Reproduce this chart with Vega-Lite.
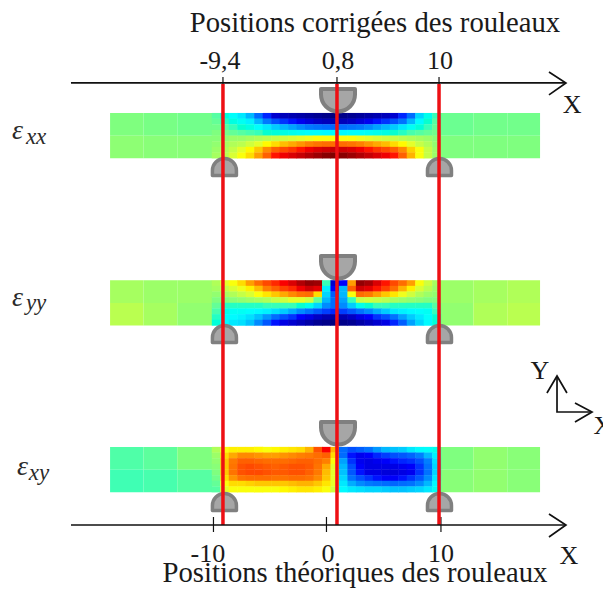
{"$schema":"https://vega.github.io/schema/vega-lite/v6.json","width":603,"height":590,"padding":0,"autosize":{"type":"none"},"background":"white","config":{"view":{"stroke":null}},
"datasets":{
"cells":[
{"x":-9.75,"y":41.95,"v":0.47},{"x":-9,"y":41.95,"v":0.42},{"x":-8.25,"y":41.95,"v":0.38},{"x":-7.5,"y":41.95,"v":0.35},{"x":-6.75,"y":41.95,"v":0.3},{"x":-6,"y":41.95,"v":0.22},{"x":-5.25,"y":41.95,"v":0.14},{"x":-4.5,"y":41.95,"v":0.08},{"x":-3.75,"y":41.95,"v":0.06},{"x":-3,"y":41.95,"v":0.05},{"x":-2.25,"y":41.95,"v":0.04},{"x":-1.5,"y":41.95,"v":0.03},{"x":-0.75,"y":41.95,"v":0.02},{"x":0,"y":41.95,"v":0.01},{"x":0.75,"y":41.95,"v":0},{"x":1.5,"y":41.95,"v":0.01},{"x":2.25,"y":41.95,"v":0.02},{"x":3,"y":41.95,"v":0.03},{"x":3.75,"y":41.95,"v":0.04},{"x":4.5,"y":41.95,"v":0.05},{"x":5.25,"y":41.95,"v":0.06},{"x":6,"y":41.95,"v":0.08},{"x":6.75,"y":41.95,"v":0.14},{"x":7.5,"y":41.95,"v":0.22},{"x":8.25,"y":41.95,"v":0.33},{"x":9,"y":41.95,"v":0.4},{"x":9.75,"y":41.95,"v":0.45},
{"x":-9.75,"y":41.45,"v":0.48},{"x":-9,"y":41.45,"v":0.44},{"x":-8.25,"y":41.45,"v":0.41},{"x":-7.5,"y":41.45,"v":0.39},{"x":-6.75,"y":41.45,"v":0.36},{"x":-6,"y":41.45,"v":0.3},{"x":-5.25,"y":41.45,"v":0.24},{"x":-4.5,"y":41.45,"v":0.18},{"x":-3.75,"y":41.45,"v":0.15},{"x":-3,"y":41.45,"v":0.13},{"x":-2.25,"y":41.45,"v":0.11},{"x":-1.5,"y":41.45,"v":0.09},{"x":-0.75,"y":41.45,"v":0.07},{"x":0,"y":41.45,"v":0.06},{"x":0.75,"y":41.45,"v":0.05},{"x":1.5,"y":41.45,"v":0.06},{"x":2.25,"y":41.45,"v":0.07},{"x":3,"y":41.45,"v":0.09},{"x":3.75,"y":41.45,"v":0.11},{"x":4.5,"y":41.45,"v":0.13},{"x":5.25,"y":41.45,"v":0.15},{"x":6,"y":41.45,"v":0.18},{"x":6.75,"y":41.45,"v":0.23},{"x":7.5,"y":41.45,"v":0.3},{"x":8.25,"y":41.45,"v":0.37},{"x":9,"y":41.45,"v":0.43},{"x":9.75,"y":41.45,"v":0.47},
{"x":-9.75,"y":40.95,"v":0.49},{"x":-9,"y":40.95,"v":0.47},{"x":-8.25,"y":40.95,"v":0.45},{"x":-7.5,"y":40.95,"v":0.43},{"x":-6.75,"y":40.95,"v":0.41},{"x":-6,"y":40.95,"v":0.38},{"x":-5.25,"y":40.95,"v":0.35},{"x":-4.5,"y":40.95,"v":0.32},{"x":-3.75,"y":40.95,"v":0.3},{"x":-3,"y":40.95,"v":0.28},{"x":-2.25,"y":40.95,"v":0.26},{"x":-1.5,"y":40.95,"v":0.24},{"x":-0.75,"y":40.95,"v":0.23},{"x":0,"y":40.95,"v":0.22},{"x":0.75,"y":40.95,"v":0.21},{"x":1.5,"y":40.95,"v":0.22},{"x":2.25,"y":40.95,"v":0.23},{"x":3,"y":40.95,"v":0.24},{"x":3.75,"y":40.95,"v":0.26},{"x":4.5,"y":40.95,"v":0.28},{"x":5.25,"y":40.95,"v":0.3},{"x":6,"y":40.95,"v":0.32},{"x":6.75,"y":40.95,"v":0.35},{"x":7.5,"y":40.95,"v":0.39},{"x":8.25,"y":40.95,"v":0.42},{"x":9,"y":40.95,"v":0.45},{"x":9.75,"y":40.95,"v":0.48},
{"x":-9.75,"y":40.45,"v":0.5},{"x":-9,"y":40.45,"v":0.49},{"x":-8.25,"y":40.45,"v":0.48},{"x":-7.5,"y":40.45,"v":0.47},{"x":-6.75,"y":40.45,"v":0.46},{"x":-6,"y":40.45,"v":0.45},{"x":-5.25,"y":40.45,"v":0.43},{"x":-4.5,"y":40.45,"v":0.42},{"x":-3.75,"y":40.45,"v":0.41},{"x":-3,"y":40.45,"v":0.4},{"x":-2.25,"y":40.45,"v":0.39},{"x":-1.5,"y":40.45,"v":0.38},{"x":-0.75,"y":40.45,"v":0.38},{"x":0,"y":40.45,"v":0.37},{"x":0.75,"y":40.45,"v":0.37},{"x":1.5,"y":40.45,"v":0.37},{"x":2.25,"y":40.45,"v":0.38},{"x":3,"y":40.45,"v":0.38},{"x":3.75,"y":40.45,"v":0.39},{"x":4.5,"y":40.45,"v":0.4},{"x":5.25,"y":40.45,"v":0.41},{"x":6,"y":40.45,"v":0.43},{"x":6.75,"y":40.45,"v":0.44},{"x":7.5,"y":40.45,"v":0.46},{"x":8.25,"y":40.45,"v":0.47},{"x":9,"y":40.45,"v":0.48},{"x":9.75,"y":40.45,"v":0.49},
{"x":-9.75,"y":39.95,"v":0.51},{"x":-9,"y":39.95,"v":0.52},{"x":-8.25,"y":39.95,"v":0.53},{"x":-7.5,"y":39.95,"v":0.53},{"x":-6.75,"y":39.95,"v":0.54},{"x":-6,"y":39.95,"v":0.55},{"x":-5.25,"y":39.95,"v":0.56},{"x":-4.5,"y":39.95,"v":0.57},{"x":-3.75,"y":39.95,"v":0.58},{"x":-3,"y":39.95,"v":0.59},{"x":-2.25,"y":39.95,"v":0.6},{"x":-1.5,"y":39.95,"v":0.61},{"x":-0.75,"y":39.95,"v":0.62},{"x":0,"y":39.95,"v":0.62},{"x":0.75,"y":39.95,"v":0.62},{"x":1.5,"y":39.95,"v":0.62},{"x":2.25,"y":39.95,"v":0.62},{"x":3,"y":39.95,"v":0.61},{"x":3.75,"y":39.95,"v":0.6},{"x":4.5,"y":39.95,"v":0.59},{"x":5.25,"y":39.95,"v":0.58},{"x":6,"y":39.95,"v":0.57},{"x":6.75,"y":39.95,"v":0.56},{"x":7.5,"y":39.95,"v":0.55},{"x":8.25,"y":39.95,"v":0.54},{"x":9,"y":39.95,"v":0.53},{"x":9.75,"y":39.95,"v":0.51},
{"x":-9.75,"y":39.45,"v":0.52},{"x":-9,"y":39.45,"v":0.54},{"x":-8.25,"y":39.45,"v":0.55},{"x":-7.5,"y":39.45,"v":0.56},{"x":-6.75,"y":39.45,"v":0.58},{"x":-6,"y":39.45,"v":0.6},{"x":-5.25,"y":39.45,"v":0.63},{"x":-4.5,"y":39.45,"v":0.66},{"x":-3.75,"y":39.45,"v":0.69},{"x":-3,"y":39.45,"v":0.71},{"x":-2.25,"y":39.45,"v":0.73},{"x":-1.5,"y":39.45,"v":0.75},{"x":-0.75,"y":39.45,"v":0.77},{"x":0,"y":39.45,"v":0.78},{"x":0.75,"y":39.45,"v":0.78},{"x":1.5,"y":39.45,"v":0.78},{"x":2.25,"y":39.45,"v":0.77},{"x":3,"y":39.45,"v":0.75},{"x":3.75,"y":39.45,"v":0.73},{"x":4.5,"y":39.45,"v":0.71},{"x":5.25,"y":39.45,"v":0.69},{"x":6,"y":39.45,"v":0.66},{"x":6.75,"y":39.45,"v":0.63},{"x":7.5,"y":39.45,"v":0.6},{"x":8.25,"y":39.45,"v":0.57},{"x":9,"y":39.45,"v":0.55},{"x":9.75,"y":39.45,"v":0.52},
{"x":-9.75,"y":38.95,"v":0.53},{"x":-9,"y":38.95,"v":0.55},{"x":-8.25,"y":38.95,"v":0.57},{"x":-7.5,"y":38.95,"v":0.6},{"x":-6.75,"y":38.95,"v":0.63},{"x":-6,"y":38.95,"v":0.68},{"x":-5.25,"y":38.95,"v":0.74},{"x":-4.5,"y":38.95,"v":0.8},{"x":-3.75,"y":38.95,"v":0.83},{"x":-3,"y":38.95,"v":0.85},{"x":-2.25,"y":38.95,"v":0.87},{"x":-1.5,"y":38.95,"v":0.89},{"x":-0.75,"y":38.95,"v":0.91},{"x":0,"y":38.95,"v":0.92},{"x":0.75,"y":38.95,"v":0.93},{"x":1.5,"y":38.95,"v":0.92},{"x":2.25,"y":38.95,"v":0.91},{"x":3,"y":38.95,"v":0.89},{"x":3.75,"y":38.95,"v":0.87},{"x":4.5,"y":38.95,"v":0.85},{"x":5.25,"y":38.95,"v":0.83},{"x":6,"y":38.95,"v":0.8},{"x":6.75,"y":38.95,"v":0.74},{"x":7.5,"y":38.95,"v":0.67},{"x":8.25,"y":38.95,"v":0.62},{"x":9,"y":38.95,"v":0.57},{"x":9.75,"y":38.95,"v":0.53},
{"x":-9.75,"y":38.45,"v":0.54},{"x":-9,"y":38.45,"v":0.56},{"x":-8.25,"y":38.45,"v":0.59},{"x":-7.5,"y":38.45,"v":0.62},{"x":-6.75,"y":38.45,"v":0.66},{"x":-6,"y":38.45,"v":0.72},{"x":-5.25,"y":38.45,"v":0.8},{"x":-4.5,"y":38.45,"v":0.87},{"x":-3.75,"y":38.45,"v":0.89},{"x":-3,"y":38.45,"v":0.91},{"x":-2.25,"y":38.45,"v":0.93},{"x":-1.5,"y":38.45,"v":0.95},{"x":-0.75,"y":38.45,"v":0.97},{"x":0,"y":38.45,"v":0.99},{"x":0.75,"y":38.45,"v":1},{"x":1.5,"y":38.45,"v":0.99},{"x":2.25,"y":38.45,"v":0.97},{"x":3,"y":38.45,"v":0.95},{"x":3.75,"y":38.45,"v":0.93},{"x":4.5,"y":38.45,"v":0.91},{"x":5.25,"y":38.45,"v":0.89},{"x":6,"y":38.45,"v":0.87},{"x":6.75,"y":38.45,"v":0.8},{"x":7.5,"y":38.45,"v":0.7},{"x":8.25,"y":38.45,"v":0.62},{"x":9,"y":38.45,"v":0.57},{"x":9.75,"y":38.45,"v":0.53},

{"x":-9.75,"y":27.15,"v":0.55},{"x":-9,"y":27.15,"v":0.6},{"x":-8.25,"y":27.15,"v":0.62},{"x":-7.5,"y":27.15,"v":0.66},{"x":-6.75,"y":27.15,"v":0.72},{"x":-6,"y":27.15,"v":0.78},{"x":-5.25,"y":27.15,"v":0.83},{"x":-4.5,"y":27.15,"v":0.86},{"x":-3.75,"y":27.15,"v":0.88},{"x":-3,"y":27.15,"v":0.91},{"x":-2.25,"y":27.15,"v":0.95},{"x":-1.5,"y":27.15,"v":0.98},{"x":-0.75,"y":27.15,"v":0.97},{"x":0,"y":27.15,"v":0.45},{"x":0.75,"y":27.15,"v":0.08},{"x":1.5,"y":27.15,"v":0.12},{"x":2.25,"y":27.15,"v":0.72},{"x":3,"y":27.15,"v":0.98},{"x":3.75,"y":27.15,"v":0.96},{"x":4.5,"y":27.15,"v":0.91},{"x":5.25,"y":27.15,"v":0.87},{"x":6,"y":27.15,"v":0.83},{"x":6.75,"y":27.15,"v":0.78},{"x":7.5,"y":27.15,"v":0.72},{"x":8.25,"y":27.15,"v":0.62},{"x":9,"y":27.15,"v":0.58},{"x":9.75,"y":27.15,"v":0.54},
{"x":-9.75,"y":26.65,"v":0.54},{"x":-9,"y":26.65,"v":0.57},{"x":-8.25,"y":26.65,"v":0.59},{"x":-7.5,"y":26.65,"v":0.61},{"x":-6.75,"y":26.65,"v":0.64},{"x":-6,"y":26.65,"v":0.69},{"x":-5.25,"y":26.65,"v":0.75},{"x":-4.5,"y":26.65,"v":0.8},{"x":-3.75,"y":26.65,"v":0.84},{"x":-3,"y":26.65,"v":0.86},{"x":-2.25,"y":26.65,"v":0.89},{"x":-1.5,"y":26.65,"v":0.92},{"x":-0.75,"y":26.65,"v":0.9},{"x":0,"y":26.65,"v":0.36},{"x":0.75,"y":26.65,"v":0.12},{"x":1.5,"y":26.65,"v":0.3},{"x":2.25,"y":26.65,"v":0.8},{"x":3,"y":26.65,"v":0.92},{"x":3.75,"y":26.65,"v":0.9},{"x":4.5,"y":26.65,"v":0.87},{"x":5.25,"y":26.65,"v":0.84},{"x":6,"y":26.65,"v":0.78},{"x":6.75,"y":26.65,"v":0.7},{"x":7.5,"y":26.65,"v":0.64},{"x":8.25,"y":26.65,"v":0.59},{"x":9,"y":26.65,"v":0.56},{"x":9.75,"y":26.65,"v":0.53},
{"x":-9.75,"y":26.15,"v":0.52},{"x":-9,"y":26.15,"v":0.54},{"x":-8.25,"y":26.15,"v":0.55},{"x":-7.5,"y":26.15,"v":0.57},{"x":-6.75,"y":26.15,"v":0.59},{"x":-6,"y":26.15,"v":0.62},{"x":-5.25,"y":26.15,"v":0.65},{"x":-4.5,"y":26.15,"v":0.68},{"x":-3.75,"y":26.15,"v":0.71},{"x":-3,"y":26.15,"v":0.74},{"x":-2.25,"y":26.15,"v":0.77},{"x":-1.5,"y":26.15,"v":0.78},{"x":-0.75,"y":26.15,"v":0.66},{"x":0,"y":26.15,"v":0.33},{"x":0.75,"y":26.15,"v":0.2},{"x":1.5,"y":26.15,"v":0.3},{"x":2.25,"y":26.15,"v":0.62},{"x":3,"y":26.15,"v":0.78},{"x":3.75,"y":26.15,"v":0.76},{"x":4.5,"y":26.15,"v":0.72},{"x":5.25,"y":26.15,"v":0.68},{"x":6,"y":26.15,"v":0.65},{"x":6.75,"y":26.15,"v":0.61},{"x":7.5,"y":26.15,"v":0.58},{"x":8.25,"y":26.15,"v":0.55},{"x":9,"y":26.15,"v":0.53},{"x":9.75,"y":26.15,"v":0.52},
{"x":-9.75,"y":25.65,"v":0.5},{"x":-9,"y":25.65,"v":0.5},{"x":-8.25,"y":25.65,"v":0.51},{"x":-7.5,"y":25.65,"v":0.52},{"x":-6.75,"y":25.65,"v":0.53},{"x":-6,"y":25.65,"v":0.54},{"x":-5.25,"y":25.65,"v":0.55},{"x":-4.5,"y":25.65,"v":0.57},{"x":-3.75,"y":25.65,"v":0.58},{"x":-3,"y":25.65,"v":0.6},{"x":-2.25,"y":25.65,"v":0.6},{"x":-1.5,"y":25.65,"v":0.58},{"x":-0.75,"y":25.65,"v":0.48},{"x":0,"y":25.65,"v":0.3},{"x":0.75,"y":25.65,"v":0.22},{"x":1.5,"y":25.65,"v":0.28},{"x":2.25,"y":25.65,"v":0.45},{"x":3,"y":25.65,"v":0.57},{"x":3.75,"y":25.65,"v":0.58},{"x":4.5,"y":25.65,"v":0.57},{"x":5.25,"y":25.65,"v":0.56},{"x":6,"y":25.65,"v":0.54},{"x":6.75,"y":25.65,"v":0.53},{"x":7.5,"y":25.65,"v":0.52},{"x":8.25,"y":25.65,"v":0.51},{"x":9,"y":25.65,"v":0.5},{"x":9.75,"y":25.65,"v":0.5},
{"x":-9.75,"y":25.15,"v":0.48},{"x":-9,"y":25.15,"v":0.44},{"x":-8.25,"y":25.15,"v":0.44},{"x":-7.5,"y":25.15,"v":0.44},{"x":-6.75,"y":25.15,"v":0.44},{"x":-6,"y":25.15,"v":0.44},{"x":-5.25,"y":25.15,"v":0.45},{"x":-4.5,"y":25.15,"v":0.45},{"x":-3.75,"y":25.15,"v":0.45},{"x":-3,"y":25.15,"v":0.45},{"x":-2.25,"y":25.15,"v":0.43},{"x":-1.5,"y":25.15,"v":0.4},{"x":-0.75,"y":25.15,"v":0.33},{"x":0,"y":25.15,"v":0.26},{"x":0.75,"y":25.15,"v":0.22},{"x":1.5,"y":25.15,"v":0.26},{"x":2.25,"y":25.15,"v":0.32},{"x":3,"y":25.15,"v":0.4},{"x":3.75,"y":25.15,"v":0.43},{"x":4.5,"y":25.15,"v":0.45},{"x":5.25,"y":25.15,"v":0.45},{"x":6,"y":25.15,"v":0.44},{"x":6.75,"y":25.15,"v":0.44},{"x":7.5,"y":25.15,"v":0.44},{"x":8.25,"y":25.15,"v":0.44},{"x":9,"y":25.15,"v":0.44},{"x":9.75,"y":25.15,"v":0.47},
{"x":-9.75,"y":24.65,"v":0.46},{"x":-9,"y":24.65,"v":0.4},{"x":-8.25,"y":24.65,"v":0.39},{"x":-7.5,"y":24.65,"v":0.39},{"x":-6.75,"y":24.65,"v":0.38},{"x":-6,"y":24.65,"v":0.37},{"x":-5.25,"y":24.65,"v":0.36},{"x":-4.5,"y":24.65,"v":0.34},{"x":-3.75,"y":24.65,"v":0.32},{"x":-3,"y":24.65,"v":0.29},{"x":-2.25,"y":24.65,"v":0.26},{"x":-1.5,"y":24.65,"v":0.23},{"x":-0.75,"y":24.65,"v":0.19},{"x":0,"y":24.65,"v":0.16},{"x":0.75,"y":24.65,"v":0.14},{"x":1.5,"y":24.65,"v":0.16},{"x":2.25,"y":24.65,"v":0.19},{"x":3,"y":24.65,"v":0.23},{"x":3.75,"y":24.65,"v":0.26},{"x":4.5,"y":24.65,"v":0.29},{"x":5.25,"y":24.65,"v":0.32},{"x":6,"y":24.65,"v":0.35},{"x":6.75,"y":24.65,"v":0.36},{"x":7.5,"y":24.65,"v":0.37},{"x":8.25,"y":24.65,"v":0.38},{"x":9,"y":24.65,"v":0.39},{"x":9.75,"y":24.65,"v":0.45},
{"x":-9.75,"y":24.15,"v":0.44},{"x":-9,"y":24.15,"v":0.38},{"x":-8.25,"y":24.15,"v":0.37},{"x":-7.5,"y":24.15,"v":0.36},{"x":-6.75,"y":24.15,"v":0.34},{"x":-6,"y":24.15,"v":0.31},{"x":-5.25,"y":24.15,"v":0.27},{"x":-4.5,"y":24.15,"v":0.22},{"x":-3.75,"y":24.15,"v":0.18},{"x":-3,"y":24.15,"v":0.15},{"x":-2.25,"y":24.15,"v":0.12},{"x":-1.5,"y":24.15,"v":0.1},{"x":-0.75,"y":24.15,"v":0.07},{"x":0,"y":24.15,"v":0.05},{"x":0.75,"y":24.15,"v":0.04},{"x":1.5,"y":24.15,"v":0.05},{"x":2.25,"y":24.15,"v":0.07},{"x":3,"y":24.15,"v":0.1},{"x":3.75,"y":24.15,"v":0.12},{"x":4.5,"y":24.15,"v":0.15},{"x":5.25,"y":24.15,"v":0.18},{"x":6,"y":24.15,"v":0.23},{"x":6.75,"y":24.15,"v":0.28},{"x":7.5,"y":24.15,"v":0.32},{"x":8.25,"y":24.15,"v":0.35},{"x":9,"y":24.15,"v":0.38},{"x":9.75,"y":24.15,"v":0.43},
{"x":-9.75,"y":23.65,"v":0.42},{"x":-9,"y":23.65,"v":0.37},{"x":-8.25,"y":23.65,"v":0.35},{"x":-7.5,"y":23.65,"v":0.34},{"x":-6.75,"y":23.65,"v":0.31},{"x":-6,"y":23.65,"v":0.26},{"x":-5.25,"y":23.65,"v":0.19},{"x":-4.5,"y":23.65,"v":0.13},{"x":-3.75,"y":23.65,"v":0.1},{"x":-3,"y":23.65,"v":0.08},{"x":-2.25,"y":23.65,"v":0.06},{"x":-1.5,"y":23.65,"v":0.04},{"x":-0.75,"y":23.65,"v":0.02},{"x":0,"y":23.65,"v":0.01},{"x":0.75,"y":23.65,"v":0},{"x":1.5,"y":23.65,"v":0.01},{"x":2.25,"y":23.65,"v":0.02},{"x":3,"y":23.65,"v":0.04},{"x":3.75,"y":23.65,"v":0.06},{"x":4.5,"y":23.65,"v":0.08},{"x":5.25,"y":23.65,"v":0.1},{"x":6,"y":23.65,"v":0.14},{"x":6.75,"y":23.65,"v":0.2},{"x":7.5,"y":23.65,"v":0.28},{"x":8.25,"y":23.65,"v":0.33},{"x":9,"y":23.65,"v":0.37},{"x":9.75,"y":23.65,"v":0.42},

{"x":-9.75,"y":12.4,"v":0.55},{"x":-9,"y":12.4,"v":0.62},{"x":-8.25,"y":12.4,"v":0.64},{"x":-7.5,"y":12.4,"v":0.64},{"x":-6.75,"y":12.4,"v":0.64},{"x":-6,"y":12.4,"v":0.63},{"x":-5.25,"y":12.4,"v":0.62},{"x":-4.5,"y":12.4,"v":0.63},{"x":-3.75,"y":12.4,"v":0.64},{"x":-3,"y":12.4,"v":0.65},{"x":-2.25,"y":12.4,"v":0.66},{"x":-1.5,"y":12.4,"v":0.7},{"x":-0.75,"y":12.4,"v":0.82},{"x":0,"y":12.4,"v":0.88},{"x":0.75,"y":12.4,"v":0.7},{"x":1.5,"y":12.4,"v":0.22},{"x":2.25,"y":12.4,"v":0.18},{"x":3,"y":12.4,"v":0.2},{"x":3.75,"y":12.4,"v":0.23},{"x":4.5,"y":12.4,"v":0.27},{"x":5.25,"y":12.4,"v":0.3},{"x":6,"y":12.4,"v":0.31},{"x":6.75,"y":12.4,"v":0.32},{"x":7.5,"y":12.4,"v":0.35},{"x":8.25,"y":12.4,"v":0.37},{"x":9,"y":12.4,"v":0.38},{"x":9.75,"y":12.4,"v":0.4},
{"x":-9.75,"y":11.9,"v":0.53},{"x":-9,"y":11.9,"v":0.66},{"x":-8.25,"y":11.9,"v":0.71},{"x":-7.5,"y":11.9,"v":0.74},{"x":-6.75,"y":11.9,"v":0.74},{"x":-6,"y":11.9,"v":0.73},{"x":-5.25,"y":11.9,"v":0.72},{"x":-4.5,"y":11.9,"v":0.72},{"x":-3.75,"y":11.9,"v":0.73},{"x":-3,"y":11.9,"v":0.74},{"x":-2.25,"y":11.9,"v":0.75},{"x":-1.5,"y":11.9,"v":0.76},{"x":-0.75,"y":11.9,"v":0.78},{"x":0,"y":11.9,"v":0.8},{"x":0.75,"y":11.9,"v":0.66},{"x":1.5,"y":11.9,"v":0.22},{"x":2.25,"y":11.9,"v":0.13},{"x":3,"y":11.9,"v":0.11},{"x":3.75,"y":11.9,"v":0.12},{"x":4.5,"y":11.9,"v":0.14},{"x":5.25,"y":11.9,"v":0.16},{"x":6,"y":11.9,"v":0.18},{"x":6.75,"y":11.9,"v":0.19},{"x":7.5,"y":11.9,"v":0.21},{"x":8.25,"y":11.9,"v":0.25},{"x":9,"y":11.9,"v":0.3},{"x":9.75,"y":11.9,"v":0.36},
{"x":-9.75,"y":11.4,"v":0.52},{"x":-9,"y":11.4,"v":0.68},{"x":-8.25,"y":11.4,"v":0.76},{"x":-7.5,"y":11.4,"v":0.8},{"x":-6.75,"y":11.4,"v":0.8},{"x":-6,"y":11.4,"v":0.79},{"x":-5.25,"y":11.4,"v":0.78},{"x":-4.5,"y":11.4,"v":0.78},{"x":-3.75,"y":11.4,"v":0.78},{"x":-3,"y":11.4,"v":0.79},{"x":-2.25,"y":11.4,"v":0.8},{"x":-1.5,"y":11.4,"v":0.8},{"x":-0.75,"y":11.4,"v":0.78},{"x":0,"y":11.4,"v":0.75},{"x":0.75,"y":11.4,"v":0.62},{"x":1.5,"y":11.4,"v":0.28},{"x":2.25,"y":11.4,"v":0.15},{"x":3,"y":11.4,"v":0.11},{"x":3.75,"y":11.4,"v":0.1},{"x":4.5,"y":11.4,"v":0.11},{"x":5.25,"y":11.4,"v":0.12},{"x":6,"y":11.4,"v":0.13},{"x":6.75,"y":11.4,"v":0.14},{"x":7.5,"y":11.4,"v":0.15},{"x":8.25,"y":11.4,"v":0.18},{"x":9,"y":11.4,"v":0.25},{"x":9.75,"y":11.4,"v":0.34},
{"x":-9.75,"y":10.9,"v":0.51},{"x":-9,"y":10.9,"v":0.68},{"x":-8.25,"y":10.9,"v":0.77},{"x":-7.5,"y":10.9,"v":0.82},{"x":-6.75,"y":10.9,"v":0.83},{"x":-6,"y":10.9,"v":0.82},{"x":-5.25,"y":10.9,"v":0.81},{"x":-4.5,"y":10.9,"v":0.8},{"x":-3.75,"y":10.9,"v":0.81},{"x":-3,"y":10.9,"v":0.82},{"x":-2.25,"y":10.9,"v":0.82},{"x":-1.5,"y":10.9,"v":0.81},{"x":-0.75,"y":10.9,"v":0.77},{"x":0,"y":10.9,"v":0.71},{"x":0.75,"y":10.9,"v":0.6},{"x":1.5,"y":10.9,"v":0.3},{"x":2.25,"y":10.9,"v":0.18},{"x":3,"y":10.9,"v":0.12},{"x":3.75,"y":10.9,"v":0.1},{"x":4.5,"y":10.9,"v":0.1},{"x":5.25,"y":10.9,"v":0.1},{"x":6,"y":10.9,"v":0.1},{"x":6.75,"y":10.9,"v":0.11},{"x":7.5,"y":10.9,"v":0.12},{"x":8.25,"y":10.9,"v":0.15},{"x":9,"y":10.9,"v":0.23},{"x":9.75,"y":10.9,"v":0.33},
{"x":-9.75,"y":10.4,"v":0.5},{"x":-9,"y":10.4,"v":0.68},{"x":-8.25,"y":10.4,"v":0.77},{"x":-7.5,"y":10.4,"v":0.82},{"x":-6.75,"y":10.4,"v":0.83},{"x":-6,"y":10.4,"v":0.83},{"x":-5.25,"y":10.4,"v":0.82},{"x":-4.5,"y":10.4,"v":0.81},{"x":-3.75,"y":10.4,"v":0.81},{"x":-3,"y":10.4,"v":0.82},{"x":-2.25,"y":10.4,"v":0.82},{"x":-1.5,"y":10.4,"v":0.8},{"x":-0.75,"y":10.4,"v":0.76},{"x":0,"y":10.4,"v":0.69},{"x":0.75,"y":10.4,"v":0.6},{"x":1.5,"y":10.4,"v":0.31},{"x":2.25,"y":10.4,"v":0.19},{"x":3,"y":10.4,"v":0.13},{"x":3.75,"y":10.4,"v":0.1},{"x":4.5,"y":10.4,"v":0.1},{"x":5.25,"y":10.4,"v":0.09},{"x":6,"y":10.4,"v":0.09},{"x":6.75,"y":10.4,"v":0.1},{"x":7.5,"y":10.4,"v":0.11},{"x":8.25,"y":10.4,"v":0.15},{"x":9,"y":10.4,"v":0.23},{"x":9.75,"y":10.4,"v":0.33},
{"x":-9.75,"y":9.9,"v":0.49},{"x":-9,"y":9.9,"v":0.66},{"x":-8.25,"y":9.9,"v":0.73},{"x":-7.5,"y":9.9,"v":0.77},{"x":-6.75,"y":9.9,"v":0.78},{"x":-6,"y":9.9,"v":0.78},{"x":-5.25,"y":9.9,"v":0.78},{"x":-4.5,"y":9.9,"v":0.77},{"x":-3.75,"y":9.9,"v":0.77},{"x":-3,"y":9.9,"v":0.78},{"x":-2.25,"y":9.9,"v":0.78},{"x":-1.5,"y":9.9,"v":0.77},{"x":-0.75,"y":9.9,"v":0.74},{"x":0,"y":9.9,"v":0.68},{"x":0.75,"y":9.9,"v":0.6},{"x":1.5,"y":9.9,"v":0.33},{"x":2.25,"y":9.9,"v":0.23},{"x":3,"y":9.9,"v":0.18},{"x":3.75,"y":9.9,"v":0.15},{"x":4.5,"y":9.9,"v":0.13},{"x":5.25,"y":9.9,"v":0.12},{"x":6,"y":9.9,"v":0.12},{"x":6.75,"y":9.9,"v":0.13},{"x":7.5,"y":9.9,"v":0.15},{"x":8.25,"y":9.9,"v":0.19},{"x":9,"y":9.9,"v":0.26},{"x":9.75,"y":9.9,"v":0.35},
{"x":-9.75,"y":9.4,"v":0.48},{"x":-9,"y":9.4,"v":0.62},{"x":-8.25,"y":9.4,"v":0.66},{"x":-7.5,"y":9.4,"v":0.66},{"x":-6.75,"y":9.4,"v":0.67},{"x":-6,"y":9.4,"v":0.68},{"x":-5.25,"y":9.4,"v":0.68},{"x":-4.5,"y":9.4,"v":0.68},{"x":-3.75,"y":9.4,"v":0.68},{"x":-3,"y":9.4,"v":0.69},{"x":-2.25,"y":9.4,"v":0.7},{"x":-1.5,"y":9.4,"v":0.7},{"x":-0.75,"y":9.4,"v":0.68},{"x":0,"y":9.4,"v":0.65},{"x":0.75,"y":9.4,"v":0.6},{"x":1.5,"y":9.4,"v":0.35},{"x":2.25,"y":9.4,"v":0.29},{"x":3,"y":9.4,"v":0.26},{"x":3.75,"y":9.4,"v":0.24},{"x":4.5,"y":9.4,"v":0.23},{"x":5.25,"y":9.4,"v":0.22},{"x":6,"y":9.4,"v":0.21},{"x":6.75,"y":9.4,"v":0.22},{"x":7.5,"y":9.4,"v":0.23},{"x":8.25,"y":9.4,"v":0.26},{"x":9,"y":9.4,"v":0.3},{"x":9.75,"y":9.4,"v":0.37},
{"x":-9.75,"y":8.9,"v":0.47},{"x":-9,"y":8.9,"v":0.6},{"x":-8.25,"y":8.9,"v":0.62},{"x":-7.5,"y":8.9,"v":0.62},{"x":-6.75,"y":8.9,"v":0.62},{"x":-6,"y":8.9,"v":0.62},{"x":-5.25,"y":8.9,"v":0.62},{"x":-4.5,"y":8.9,"v":0.62},{"x":-3.75,"y":8.9,"v":0.63},{"x":-3,"y":8.9,"v":0.64},{"x":-2.25,"y":8.9,"v":0.65},{"x":-1.5,"y":8.9,"v":0.65},{"x":-0.75,"y":8.9,"v":0.64},{"x":0,"y":8.9,"v":0.62},{"x":0.75,"y":8.9,"v":0.58},{"x":1.5,"y":8.9,"v":0.37},{"x":2.25,"y":8.9,"v":0.35},{"x":3,"y":8.9,"v":0.34},{"x":3.75,"y":8.9,"v":0.33},{"x":4.5,"y":8.9,"v":0.33},{"x":5.25,"y":8.9,"v":0.32},{"x":6,"y":8.9,"v":0.31},{"x":6.75,"y":8.9,"v":0.31},{"x":7.5,"y":8.9,"v":0.32},{"x":8.25,"y":8.9,"v":0.33},{"x":9,"y":8.9,"v":0.35},{"x":9.75,"y":8.9,"v":0.39}
],
"outer":[
{"x":-19.15,"x2":-16.2,"y":40.2,"y2":42.2,"v":0.5},{"x":-16.2,"x2":-13.2,"y":40.2,"y2":42.2,"v":0.495},{"x":-13.2,"x2":-10.125,"y":40.2,"y2":42.2,"v":0.49},
{"x":-19.15,"x2":-16.2,"y":38.2,"y2":40.2,"v":0.515},{"x":-16.2,"x2":-13.2,"y":38.2,"y2":40.2,"v":0.51},{"x":-13.2,"x2":-10.125,"y":38.2,"y2":40.2,"v":0.51},
{"x":10.125,"x2":13,"y":40.2,"y2":42.2,"v":0.485},{"x":13,"x2":16,"y":40.2,"y2":42.2,"v":0.49},{"x":16,"x2":18.9,"y":40.2,"y2":42.2,"v":0.49},
{"x":10.125,"x2":13,"y":38.2,"y2":40.2,"v":0.5},{"x":13,"x2":16,"y":38.2,"y2":40.2,"v":0.5},{"x":16,"x2":18.9,"y":38.2,"y2":40.2,"v":0.5},
{"x":-19.15,"x2":-16.2,"y":25.4,"y2":27.4,"v":0.54},{"x":-16.2,"x2":-13.2,"y":25.4,"y2":27.4,"v":0.53},{"x":-13.2,"x2":-10.125,"y":25.4,"y2":27.4,"v":0.53},
{"x":-19.15,"x2":-16.2,"y":23.4,"y2":25.4,"v":0.56},{"x":-16.2,"x2":-13.2,"y":23.4,"y2":25.4,"v":0.54},{"x":-13.2,"x2":-10.125,"y":23.4,"y2":25.4,"v":0.52},
{"x":10.125,"x2":13,"y":25.4,"y2":27.4,"v":0.53},{"x":13,"x2":16,"y":25.4,"y2":27.4,"v":0.54},{"x":16,"x2":18.9,"y":25.4,"y2":27.4,"v":0.55},
{"x":10.125,"x2":13,"y":23.4,"y2":25.4,"v":0.52},{"x":13,"x2":16,"y":23.4,"y2":25.4,"v":0.55},{"x":16,"x2":18.9,"y":23.4,"y2":25.4,"v":0.56},
{"x":-19.15,"x2":-16.2,"y":10.65,"y2":12.65,"v":0.465},{"x":-16.2,"x2":-13.2,"y":10.65,"y2":12.65,"v":0.475},{"x":-13.2,"x2":-10.125,"y":10.65,"y2":12.65,"v":0.5},
{"x":-19.15,"x2":-16.2,"y":8.65,"y2":10.65,"v":0.455},{"x":-16.2,"x2":-13.2,"y":8.65,"y2":10.65,"v":0.46},{"x":-13.2,"x2":-10.125,"y":8.65,"y2":10.65,"v":0.47},
{"x":10.125,"x2":13,"y":10.65,"y2":12.65,"v":0.5},{"x":13,"x2":16,"y":10.65,"y2":12.65,"v":0.52},{"x":16,"x2":18.9,"y":10.65,"y2":12.65,"v":0.51},
{"x":10.125,"x2":13,"y":8.65,"y2":10.65,"v":0.51},{"x":13,"x2":16,"y":8.65,"y2":10.65,"v":0.52},{"x":16,"x2":18.9,"y":8.65,"y2":10.65,"v":0.51}
]},
"layer":[
{"data":{"name":"outer"},"mark":{"type":"rect","stroke":null},"encoding":{
"x":{"field":"x","type":"quantitative","scale":{"domain":[-28.89,24.47],"nice":false,"zero":false},"axis":null},"x2":{"field":"x2"},
"y":{"field":"y","type":"quantitative","scale":{"domain":[0,52.21],"nice":false,"zero":false},"axis":null},"y2":{"field":"y2"},
"color":{"field":"v","type":"quantitative","legend":null,"scale":{"domain":[0,0.125,0.25,0.375,0.5,0.625,0.75,0.875,1],"range":["#00007f","#0000ff","#007fff","#00ffff","#7fff7f","#ffff00","#ff7f00","#ff0000","#7f0000"]}}}},
{"data":{"name":"cells"},"mark":{"type":"rect","width":9,"height":6},"encoding":{
"x":{"field":"x","type":"quantitative"},"y":{"field":"y","type":"quantitative"},
"color":{"field":"v","type":"quantitative","legend":null}}},
{"data":{"values":[{"x":1.02,"y":43.32},{"x":1.02,"y":28.54},{"x":1.02,"y":13.85}]},"mark":{"type":"point","filled":true,"fill":"#a6a6a6","stroke":"#808080","strokeWidth":4,"opacity":1,"strokeJoin":"round","size":1156,"shape":"M-1,-0.68 L1,-0.68 L1,-0.35 A1,1 0 0 1 -1,-0.35 Z"},"encoding":{"x":{"field":"x","type":"quantitative"},"y":{"field":"y","type":"quantitative"}}},
{"data":{"values":[{"x":-9.03,"y":37.43},{"x":10,"y":37.43},{"x":-9.03,"y":22.65},{"x":10,"y":22.65},{"x":-9.03,"y":7.79},{"x":10,"y":7.79}]},"mark":{"type":"point","filled":true,"fill":"#a6a6a6","stroke":"#808080","strokeWidth":3.5,"opacity":1,"strokeJoin":"round","size":576,"shape":"M-1,0.71 L1,0.71 L1,0.29 A1,1 0 0 0 -1,0.29 Z"},"encoding":{"x":{"field":"x","type":"quantitative"},"y":{"field":"y","type":"quantitative"}}},
{"data":{"values":[{"x":-9.16,"y":45.4,"y2":44.7},{"x":0.93,"y":45.4,"y2":44.7},{"x":9.96,"y":45.4,"y2":44.7},{"x":-10,"y":6.46,"y2":5.13},{"x":0,"y":6.46,"y2":5.13},{"x":10.13,"y":6.46,"y2":5.13}]},"mark":{"type":"rule","color":"#111111","strokeWidth":1.2},"encoding":{"x":{"field":"x","type":"quantitative"},"y":{"field":"y","type":"quantitative"},"y2":{"field":"y2"}}},
{"data":{"values":[{"x":-9.16,"y":44.78,"y2":5.75},{"x":0.93,"y":44.78,"y2":5.75},{"x":9.96,"y":44.78,"y2":5.75}]},"mark":{"type":"rule","color":"#ee0f14","strokeWidth":3.5},"encoding":{"x":{"field":"x","type":"quantitative"},"y":{"field":"y","type":"quantitative"},"y2":{"field":"y2"}}},
{"data":{"values":[
{"id":"a","o":1,"x":-22.61,"y":44.87},{"id":"a","o":2,"x":21.19,"y":44.87},
{"id":"b","o":1,"x":19.69,"y":45.84},{"id":"b","o":2,"x":21.19,"y":44.87},{"id":"b","o":3,"x":19.69,"y":43.81},
{"id":"c","o":1,"x":-22.61,"y":5.75},{"id":"c","o":2,"x":21.19,"y":5.75},
{"id":"d","o":1,"x":19.69,"y":6.73},{"id":"d","o":2,"x":21.19,"y":5.75},{"id":"d","o":3,"x":19.69,"y":4.69},
{"id":"e","o":1,"x":20.4,"y":18.94},{"id":"e","o":2,"x":20.4,"y":15.75},{"id":"e","o":3,"x":23.5,"y":15.75},
{"id":"f","o":1,"x":19.51,"y":17.43},{"id":"f","o":2,"x":20.4,"y":18.94},{"id":"f","o":3,"x":21.28,"y":17.43},
{"id":"g","o":1,"x":21.99,"y":16.55},{"id":"g","o":2,"x":23.5,"y":15.75},{"id":"g","o":3,"x":21.99,"y":14.87}
]},"mark":{"type":"line","color":"#111111","strokeWidth":1.7},"encoding":{"x":{"field":"x","type":"quantitative"},"y":{"field":"y","type":"quantitative"},"detail":{"field":"id"},"order":{"field":"o","type":"quantitative"}}},
{"data":{"values":[
{"x":4.29,"y":49.38,"t":"Positions corrigées des rouleaux"},{"x":2.52,"y":0.71,"t":"Positions théoriques des rouleaux"}
]},"mark":{"type":"text","font":"Liberation Serif","fontSize":28.7,"color":"#1a1a1a","baseline":"alphabetic","align":"center"},"encoding":{"x":{"field":"x","type":"quantitative"},"y":{"field":"y","type":"quantitative"},"text":{"field":"t"}}},
{"data":{"values":[
{"x":-9.42,"y":46.1,"t":"-9,4"},{"x":1.02,"y":46.1,"t":"0,8"},{"x":10.04,"y":46.1,"t":"10"},
{"x":-10.49,"y":2.48,"t":"-10"},{"x":0.13,"y":2.48,"t":"0"},{"x":10.13,"y":2.48,"t":"10"},
{"x":21.73,"y":42.21,"t":"X"},{"x":21.46,"y":2.3,"t":"X"},{"x":18.89,"y":18.67,"t":"Y"},{"x":24.47,"y":13.81,"t":"X"}
]},"mark":{"type":"text","font":"Liberation Serif","fontSize":26,"color":"#1a1a1a","baseline":"alphabetic","align":"center","clip":true},"encoding":{"x":{"field":"x","type":"quantitative"},"y":{"field":"y","type":"quantitative"},"text":{"field":"t"}}},
{"data":{"values":[{"x":-27.83,"y":39.91,"t":"ε"},{"x":-27.83,"y":25.13,"t":"ε"},{"x":-27.39,"y":10.2,"t":"ε"}]},"mark":{"type":"text","font":"Liberation Serif","fontStyle":"italic","fontSize":28,"color":"#2a2a2a","baseline":"alphabetic","align":"left"},"encoding":{"x":{"field":"x","type":"quantitative"},"y":{"field":"y","type":"quantitative"},"text":{"field":"t"}}},
{"data":{"values":[{"x":-26.6,"y":39.47,"t":"xx"},{"x":-26.6,"y":24.78,"t":"yy"},{"x":-26.34,"y":9.73,"t":"xy"}]},"mark":{"type":"text","font":"Liberation Serif","fontStyle":"italic","fontSize":23,"color":"#2a2a2a","baseline":"alphabetic","align":"left"},"encoding":{"x":{"field":"x","type":"quantitative"},"y":{"field":"y","type":"quantitative"},"text":{"field":"t"}}}
],"resolve":{"scale":{"color":"shared"}}}
